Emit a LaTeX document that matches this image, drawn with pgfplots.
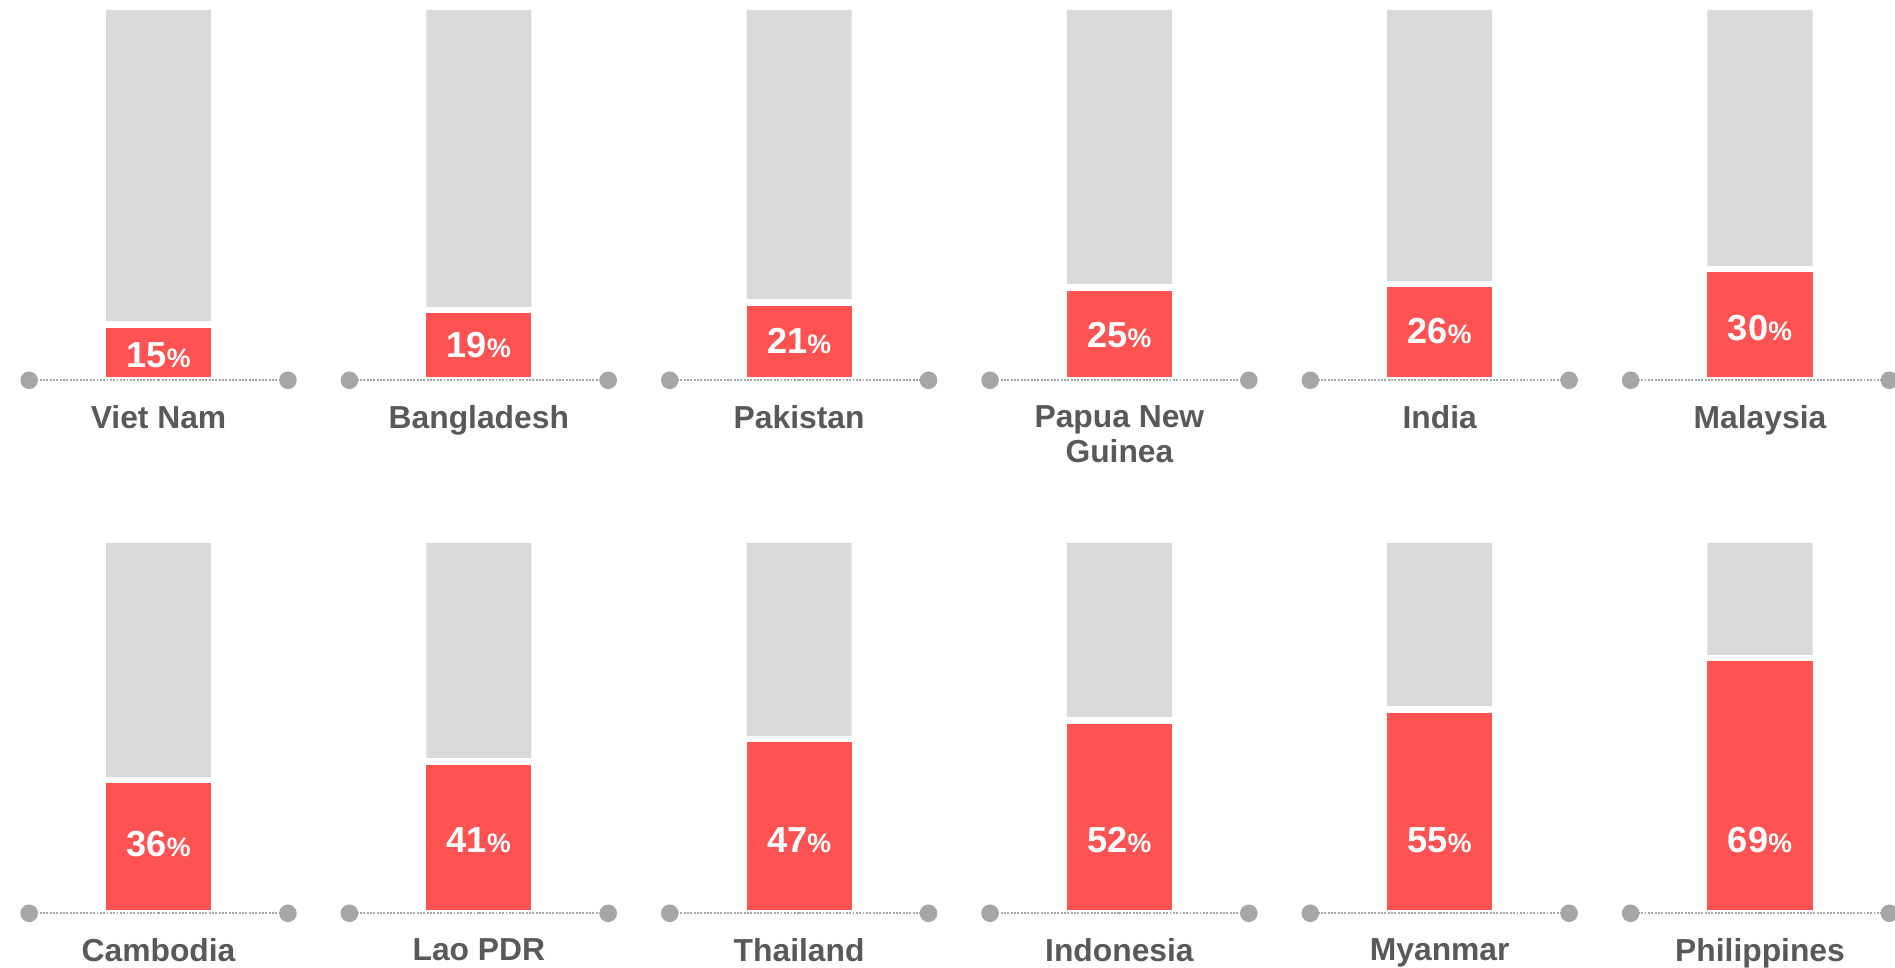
\documentclass[border=0pt]{standalone}
\usepackage{pgfplots}
\pgfplotsset{compat=1.18}
\usepackage{fontspec}
\setmainfont{Liberation Sans}
\definecolor{barred}{HTML}{FF5252}
\definecolor{bargrey}{HTML}{D9D9D9}
\definecolor{dotgrey}{HTML}{A6A6A6}
\definecolor{labgrey}{HTML}{595959}
\pgfplotsset{
  panelrow/.style={
    scale only axis, width=18.95cm, height=4.025cm,
    xmin=-0.495, xmax=5.4215, ymin=-6, ymax=102.7,
    axis line style={draw=none}, tick style={draw=none},
    ytick=\empty, xtick={0,1,2,3,4,5},
    xticklabel style={anchor=north, inner sep=0pt, yshift=-0.25mm, align=center,
      font=\bfseries\fontsize{9.05}{9.96}\selectfont, text=labgrey},
    clip=true,
  },
  greybar/.style={ybar, bar width=0.328, bar shift=0pt, fill=bargrey, draw=none},
  redbar/.style={ybar, bar width=0.3483, bar shift=0pt, fill=barred, draw=white, line width=0.65mm},
  pctlab/.style={only marks, mark=none, point meta=explicit symbolic,
    nodes near coords={\pgfplotspointmeta{\fontsize{7.6}{9}\selectfont\%}},
    every node near coord/.style={anchor=center, text=white, inner sep=0pt,
      font=\bfseries\fontsize{10.3}{12}\selectfont}},
  basedots/.style={only marks, mark=*, mark size=0pt,
    mark options={draw=none, fill=none},
    error bars/.cd, x dir=both, x fixed=0.404,
    error bar style={dotgrey, line width=0.65pt, dash pattern=on 0.55pt off 0.4pt},
    error mark=*, error mark options={dotgrey, fill=dotgrey, draw=dotgrey, mark size=2.3pt, solid, line width=0.4pt}},
}
\begin{document}
\begin{tikzpicture}
\useasboundingbox (0,0) rectangle (18.95cm,-9.68cm);
% ---------- row 1 ----------
\begin{axis}[panelrow, at={(0,0)}, anchor=north west,
  xticklabels={Viet Nam, Bangladesh, Pakistan, {Papua New\\Guinea}, India, Malaysia}]
\addplot[greybar] coordinates {(0,100) (1,100) (2,100) (3,100) (4,100) (5,100)};
\addplot[redbar] coordinates {(0,15) (1,19) (2,21) (3,25) (4,26) (5,30)};
\addplot[pctlab] coordinates {(0,6.8) [15] (1,9.4) [19] (2,10.7) [21] (3,12.3) [25] (4,13.3) [26] (5,14.1) [30]};
\addplot[basedots] coordinates {(0,0) (1,0) (2,0) (3,0) (4,0) (5,0)};
\end{axis}
% ---------- row 2 ----------
\begin{axis}[panelrow, at={(0,-5.33cm)}, anchor=north west,
  xticklabels={Cambodia, Lao PDR, Thailand, Indonesia, Myanmar, Philippines}]
\addplot[greybar] coordinates {(0,100) (1,100) (2,100) (3,100) (4,100) (5,100)};
\addplot[redbar] coordinates {(0,36) (1,41) (2,47) (3,52) (4,55) (5,69)};
\addplot[pctlab] coordinates {(0,18.8) [36] (1,19.8) [41] (2,19.8) [47] (3,19.8) [52] (4,19.8) [55] (5,19.8) [69]};
\addplot[basedots] coordinates {(0,0) (1,0) (2,0) (3,0) (4,0) (5,0)};
\end{axis}
\end{tikzpicture}
\end{document}
